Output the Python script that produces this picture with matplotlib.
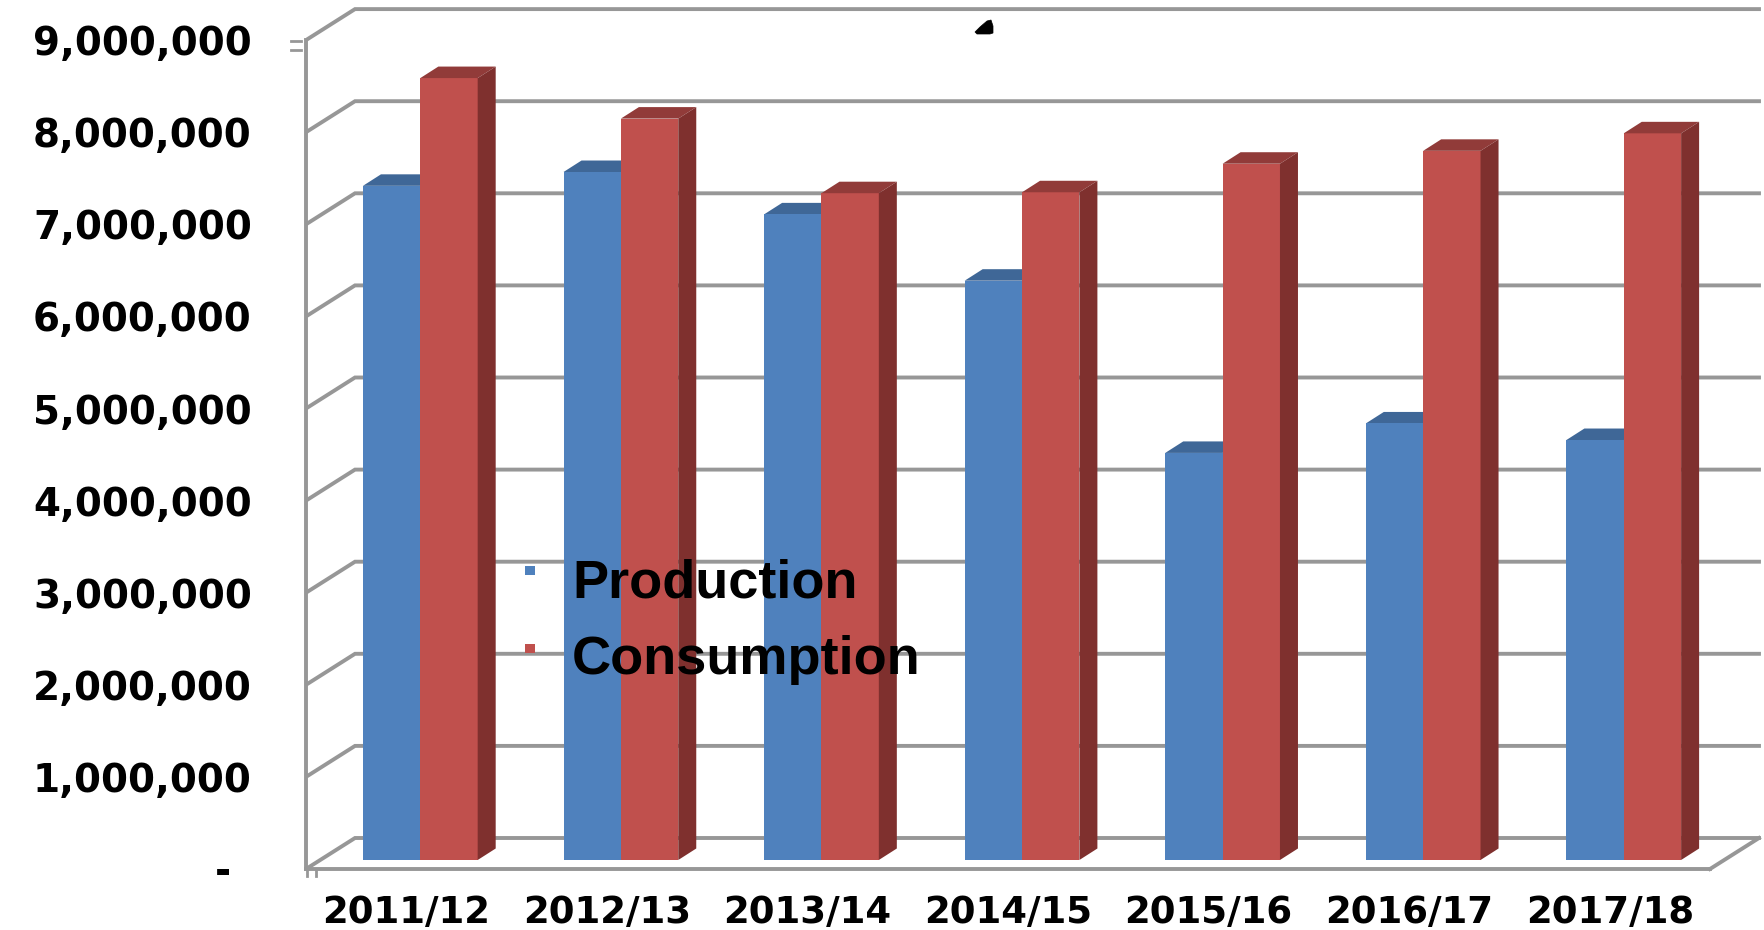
import numpy as np
import matplotlib
matplotlib.use("Agg")
import matplotlib.pyplot as plt
from matplotlib.lines import Line2D
from matplotlib.patches import Polygon

W = 1764
H = 930

seasons = ['2011/12', '2012/13', '2013/14', '2014/15', '2015/16', '2016/17', '2017/18']
production = [7320000, 7470000, 7010000, 6290000, 4420000, 4740000, 4560000]
consumption = [8490000, 8050000, 7240000, 7250000, 7560000, 7700000, 7890000]
y_ticks = [0, 1000000, 2000000, 3000000, 4000000, 5000000, 6000000, 7000000, 8000000, 9000000]
y_labels = ['-', '1,000,000', '2,000,000', '3,000,000', '4,000,000', '5,000,000',
            '6,000,000', '7,000,000', '8,000,000', '9,000,000']
legend_names = ['Production', 'Consumption']

blue = '#4F81BD'
blue_top = '#3F6797'
red = '#C0504D'
red_top = '#913B39'
red_side = '#7F302E'
grid_col = '#979797'

# fake 3d depth, in data units
px_x = 200.57  # pixels per category
px_y = 92.1 / 1e6  # pixels per unit of value
wall_dx = 49 / px_x
wall_dy = 31 / px_y
bar_dx = 18 / px_x
bar_dy = 11.5 / px_y
gap = 9 / px_y
bar_w = 0.286
shift = 0.07
grid_lw = 2.8


def fx(p):
    return p / W


def fy(p):
    return 1 - p / H


fig = plt.figure(figsize=(W / 100, H / 100), dpi=100, facecolor='white')
ax = fig.add_axes([fx(306), fy(869), fx(W - 306), 869 / H])
ax.set_xlim(-0.5, -0.5 + (W - 306) / px_x)
ax.set_ylim(0, 869 / px_y)
ax.patch.set_visible(False)

# walls and floor
x_end = 6.5 + wall_dx
for v in y_ticks:
    ax.plot([-0.5, -0.5 + wall_dx, x_end], [v, v + wall_dy, v + wall_dy],
            color=grid_col, lw=grid_lw, zorder=1, solid_joinstyle='miter')
ax.plot([6.5, x_end], [0, wall_dy], color=grid_col, lw=grid_lw, zorder=1, clip_on=False)

for s in ['top', 'right']:
    ax.spines[s].set_visible(False)
for s in ['left', 'bottom']:
    ax.spines[s].set_color(grid_col)
    ax.spines[s].set_linewidth(grid_lw)
    ax.spines[s].set_zorder(1)
ax.spines['left'].set_bounds(0, 9000000)
ax.spines['bottom'].set_bounds(-0.5, 6.5)

# bars
x = np.arange(len(seasons))
ax.bar(x + shift - bar_w / 2, production, bar_w, bottom=gap, color=blue, linewidth=0, zorder=4)
ax.bar(x + shift + bar_w / 2, consumption, bar_w, bottom=gap, color=red, linewidth=0, zorder=5)

for i in range(len(seasons)):
    left = x[i] + shift - bar_w
    mid = x[i] + shift
    right = x[i] + shift + bar_w
    top = production[i] + gap
    ax.add_patch(Polygon([(left, top), (mid, top), (mid + bar_dx, top + bar_dy), (left + bar_dx, top + bar_dy)],
                         closed=True, facecolor=blue_top, edgecolor='none', zorder=3))
    top = consumption[i] + gap
    ax.add_patch(Polygon([(mid, top), (right, top), (right + bar_dx, top + bar_dy), (mid + bar_dx, top + bar_dy)],
                         closed=True, facecolor=red_top, edgecolor='none', zorder=5))
    ax.add_patch(Polygon([(right, gap), (right + bar_dx, gap + bar_dy), (right + bar_dx, top + bar_dy), (right, top)],
                         closed=True, facecolor=red_side, edgecolor='none', zorder=5))

# axis labels
ax.set_xticks(x)
ax.set_xticklabels(seasons, family='DejaVu Sans', fontweight='bold', fontsize=26.7)
ax.set_yticks(y_ticks)
ax.set_yticklabels(y_labels, family='DejaVu Sans', fontweight='bold', fontsize=28)
ax.tick_params(axis='x', length=0, pad=18)
ax.tick_params(axis='y', length=0, pad=39)
ax.get_yaxis().get_major_ticks()[0].set_pad(54)

# legend, sits on top of the bars in the original
leg_cols = [blue, red]
leg_y = [597, 674]
leg_mark = [570.5, 648.5]
for i in range(2):
    fig.add_artist(Polygon([(fx(525), fy(leg_mark[i] - 4.5)), (fx(535), fy(leg_mark[i] - 4.5)),
                            (fx(535), fy(leg_mark[i] + 4.5)), (fx(525), fy(leg_mark[i] + 4.5))],
                           closed=True, facecolor=leg_cols[i], edgecolor='none',
                           transform=fig.transFigure))
    fig.text(fx(572), fy(leg_y[i]), legend_names[i], family='Liberation Sans', fontweight='bold',
             fontsize=39, color='black', ha='left', va='baseline', zorder=10)

# small stray marks of the source picture
for py in [41, 50]:
    fig.add_artist(Line2D([fx(291), fx(301)], [fy(py), fy(py)], color=grid_col, lw=2))
for px in [307, 316]:
    fig.add_artist(Line2D([fx(px), fx(px)], [fy(870), fy(876)], color=grid_col, lw=2))
blob = [(975, 32), (980, 27), (987, 21), (991, 20), (993, 26), (993, 33), (990, 34), (977, 34)]
fig.add_artist(Polygon([(fx(a), fy(b)) for a, b in blob], closed=True, facecolor='black',
                       edgecolor='black', linewidth=0.5, transform=fig.transFigure))

fig.savefig('out.png', dpi=100)
